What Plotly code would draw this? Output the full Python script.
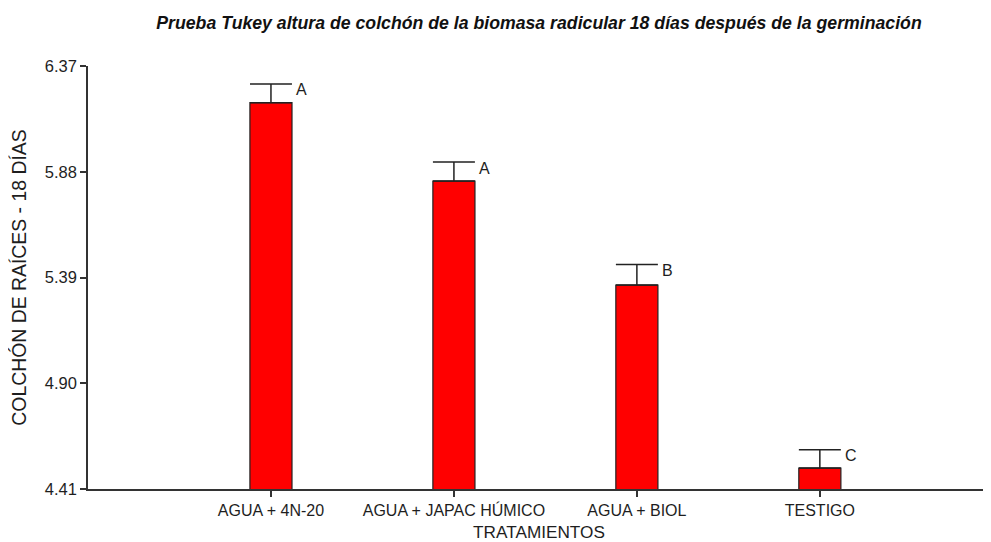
import plotly.graph_objects as go

categories = ["AGUA + 4N-20", "AGUA + JAPAC HÚMICO", "AGUA + BIOL", "TESTIGO"]
means = [6.20, 5.837, 5.355, 4.507]
errors = [0.087, 0.088, 0.095, 0.085]
letters = ["A", "A", "B", "C"]
y_ticks = [4.41, 4.90, 5.39, 5.88, 6.37]
y_tick_labels = ["4.41", "4.90", "5.39", "5.88", "6.37"]

xpos = list(range(len(categories)))
font = "Liberation Sans, Arial, sans-serif"
ink = "#1e1e1e"

fig = go.Figure()
fig.add_trace(go.Bar(
    x=xpos, y=means, width=0.23,
    marker=dict(color="#FF0000", line=dict(color="#222222", width=1.2)),
    error_y=dict(type="data", symmetric=False, array=errors,
                 arrayminus=[0]*len(errors), color="#222222", thickness=1.5, width=21),
))

for i, (m, e, l) in enumerate(zip(means, errors, letters)):
    fig.add_annotation(x=xpos[i], y=m + e, text=l, showarrow=False,
                       xanchor="left", yanchor="middle", xshift=23, yshift=-6,
                       font=dict(family=font, size=16, color=ink))

fig.update_layout(
    width=983, height=534,
    margin=dict(l=80, r=1, t=58, b=53),
    plot_bgcolor="white", paper_bgcolor="white",
    showlegend=False,
    title=dict(text="<b><i>Prueba Tukey altura de colchón de la biomasa radicular 18 días después de la germinación</i></b>",
               xref="paper", x=0.5, xanchor="center", y=0.973, yanchor="middle",
               font=dict(family=font, size=17.7, color="#111111")),
    xaxis=dict(range=[-1, 3.93], tickmode="array", tickvals=xpos, ticktext=categories,
               showgrid=False, zeroline=False, showline=True, linecolor="#333333", linewidth=1.5,
               ticks="outside", ticklen=6, tickcolor="#333333", tickwidth=1.5,
               tickfont=dict(family=font, size=16, color=ink), automargin=False,
               title=dict(text="TRATAMIENTOS", font=dict(family=font, size=17.2, color=ink), standoff=11)),
    yaxis=dict(range=[4.41, 6.37], tickmode="array", tickvals=y_ticks, ticktext=y_tick_labels,
               showgrid=False, zeroline=False, showline=True, linecolor="#333333", linewidth=1.5,
               ticks="outside", ticklen=6, tickcolor="#333333", tickwidth=1.5,
               tickfont=dict(family=font, size=16.5, color=ink), automargin=False,
               title=dict(text="COLCHÓN DE RAÍCES - 18 DÍAS", font=dict(family=font, size=19.4, color=ink), standoff=14)),
)

fig.write_html("out.html")
